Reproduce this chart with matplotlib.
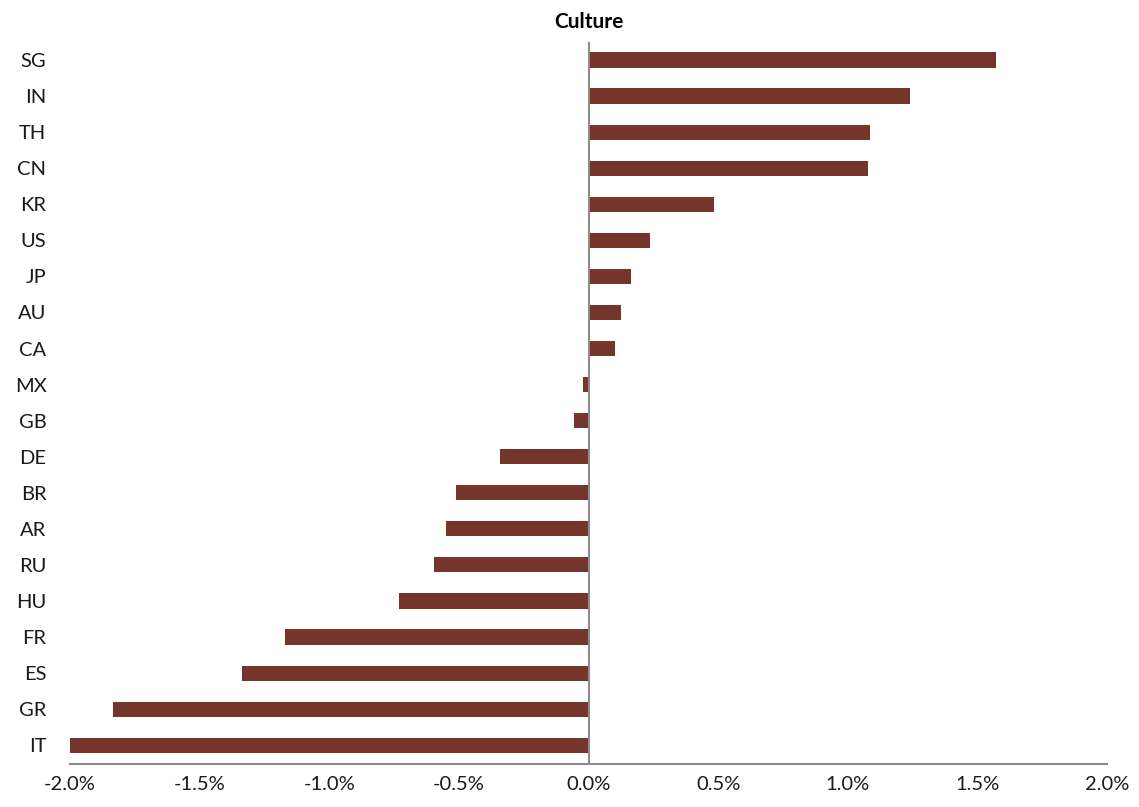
import matplotlib.pyplot as plt
import numpy as np

paises = ["IT", "GR", "ES", "FR", "HU", "RU", "AR", "BR", "DE", "GB",
          "MX", "CA", "AU", "JP", "US", "KR", "CN", "TH", "IN", "SG"]
valores = [-2.00, -1.835, -1.335, -1.17, -0.73, -0.595, -0.55, -0.51, -0.34, -0.055,
           -0.02, 0.10, 0.125, 0.165, 0.235, 0.485, 1.078, 1.085, 1.24, 1.57]
ticks_x = [-2.0, -1.5, -1.0, -0.5, 0.0, 0.5, 1.0, 1.5, 2.0]

plt.rcParams['font.family'] = ['Lato', 'DejaVu Sans']

fig = plt.figure(figsize=(11.39, 8.07), dpi=100)
ax = fig.add_axes([0.0615, 0.0533, 0.9105, 0.8947])

y = np.arange(len(paises))
ax.barh(y, valores, height=0.42, color="#75352B")
ax.axvline(0, color="#8c8c8c", lw=1.5, zorder=3)

ax.set_xlim(-2.0, 2.0)
ax.set_ylim(-0.52, 19.5)
ax.set_yticks(y)
ax.set_yticklabels(paises, fontsize=14.5, color="#1a1a1a")
ax.set_xticks(ticks_x)
ax.set_xticklabels(["%.1f%%" % t for t in ticks_x], fontsize=14.5, color="#1a1a1a")
ax.tick_params(axis="y", length=0, pad=17)
ax.tick_params(axis="x", length=0, pad=9)

for s in ["top", "right", "left"]:
    ax.spines[s].set_visible(False)
ax.spines["bottom"].set_color("#8c8c8c")
ax.spines["bottom"].set_linewidth(1.5)

ax.set_title("Culture", fontsize=15, fontweight="bold", pad=10)

plt.savefig("out.png", dpi=100)
